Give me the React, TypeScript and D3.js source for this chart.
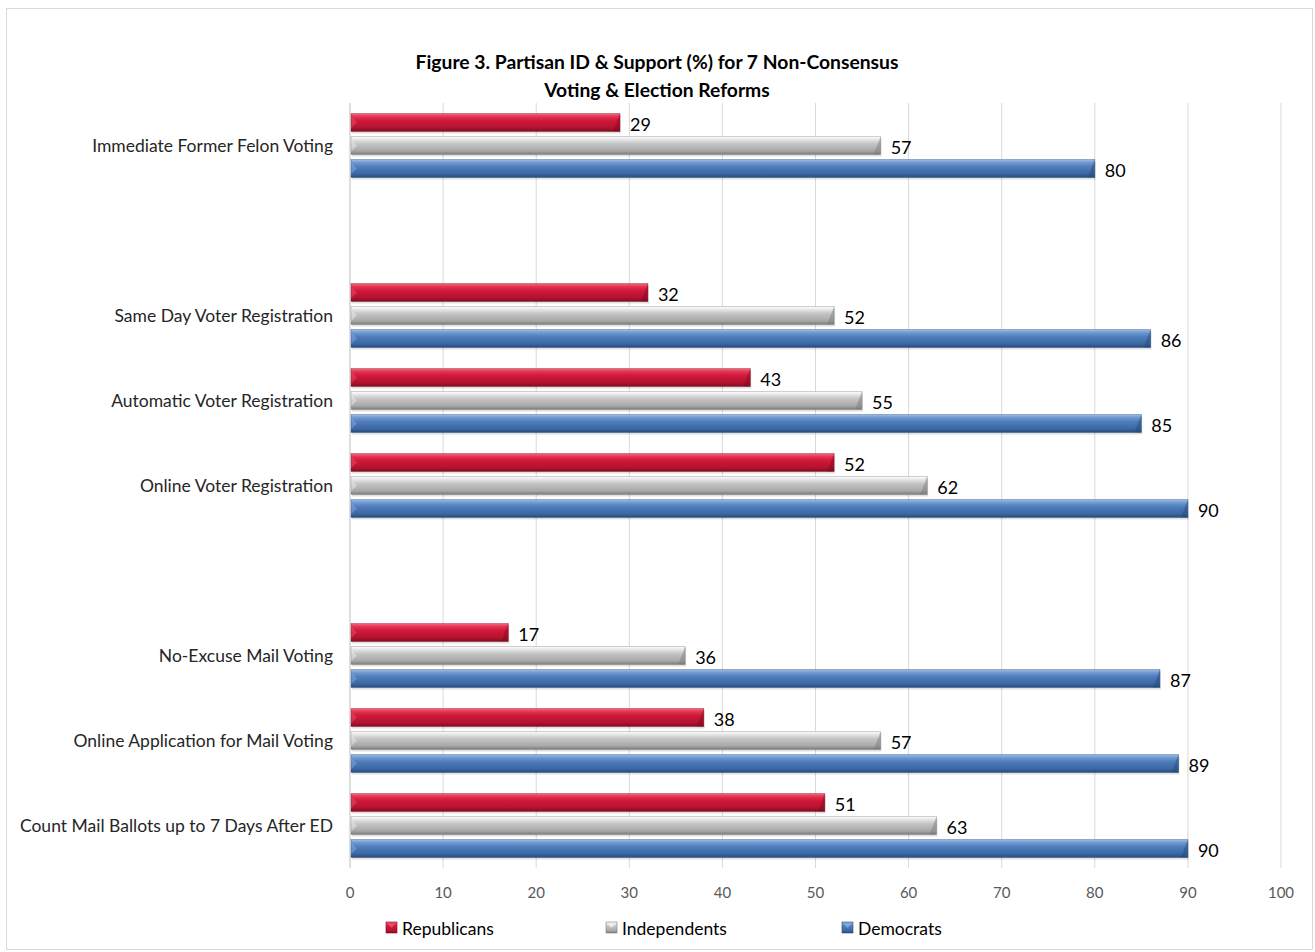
import React from "react";
import * as d3 from "d3";

const categories = [
  "Immediate Former Felon Voting",
  "",
  "Same Day Voter Registration",
  "Automatic Voter Registration",
  "Online Voter Registration",
  " ",
  "No-Excuse Mail Voting",
  "Online Application for Mail Voting",
  "Count Mail Ballots up to 7 Days After ED",
];
const series = ["Republicans", "Independents", "Democrats"];
const republicans = [29, null, 32, 43, 52, null, 17, 38, 51];
const independents = [57, null, 52, 55, 62, null, 36, 57, 63];
const democrats = [80, null, 86, 85, 90, null, 87, 89, 90];
const xTicks = [0, 10, 20, 30, 40, 50, 60, 70, 80, 90, 100];
const titleLines = [
  "Figure 3. Partisan ID & Support (%) for 7 Non-Consensus",
  "Voting & Election Reforms",
];

const palettes: Record<string, { top: string; hi: string; mid: string; low: string; bot: string }> = {
  Republicans: { top: "#f06a80", hi: "#e4324f", mid: "#d0183b", low: "#b3122f", bot: "#7e0c20" },
  Independents: { top: "#ffffff", hi: "#e4e4e4", mid: "#c4c4c4", low: "#a8a8a8", bot: "#7a7a7a" },
  Democrats: { top: "#9dbde6", hi: "#6f98d0", mid: "#4f7dbb", low: "#3b67a3", bot: "#254a7a" },
};

const FONT = "Lato, 'Open Sans', sans-serif";

export default function App() {
  const W = 1315;
  const H = 952;
  const x = d3.scaleLinear().domain([0, 100]).range([350, 1281]);
  const y = d3
    .scaleBand<string>()
    .domain(categories)
    .range([103, 868])
    .paddingInner(0)
    .paddingOuter(0);
  const inner = d3
    .scaleBand<string>()
    .domain(series)
    .range([-32, 32])
    .paddingInner(5 / 23);
  const dataBySeries: Record<string, (number | null)[]> = {
    Republicans: republicans,
    Independents: independents,
    Democrats: democrats,
  };
  const bh = inner.bandwidth();

  const legendX: Record<string, number> = { Republicans: 386, Independents: 606, Democrats: 842 };

  return (
    <svg
      width={W}
      height={H}
      style={{ position: "absolute", left: 0, top: 0, background: "#fff" }}
      fontFamily={FONT}
    >
      <defs>
        {series.map((s) => {
          const p = palettes[s];
          return (
            <linearGradient key={s} id={"g-" + s} x1="0" y1="0" x2="0" y2="1">
              <stop offset="0" stopColor={p.top} />
              <stop offset="0.18" stopColor={p.hi} />
              <stop offset="0.4" stopColor={p.mid} />
              <stop offset="0.8" stopColor={p.low} />
              <stop offset="1" stopColor={p.bot} />
            </linearGradient>
          );
        })}
      </defs>
      <rect x={6.5} y={8.5} width={1306} height={941} fill="#fff" stroke="#d9d9d9" strokeWidth={1} />

      {/* title */}
      {titleLines.map((t, i) => (
        <text
          key={i}
          x={657}
          y={61 + i * 28}
          textAnchor="middle"
          dominantBaseline="central"
          fontSize={19.3}
          fontWeight="bold"
          fill="#000"
        >
          {t}
        </text>
      ))}

      {/* gridlines */}
      {xTicks.map((t) => (
        <line
          key={t}
          x1={x(t)}
          x2={x(t)}
          y1={103}
          y2={868}
          stroke={t === 0 ? "#bfbfbf" : "#d9d9d9"}
          strokeWidth={1}
        />
      ))}

      {/* bars */}
      {categories.map((c, ci) =>
        series.map((s) => {
          const v = dataBySeries[s][ci];
          if (v == null) return null;
          const y0 = (y(c) as number) + y.bandwidth() / 2 + (inner(s) as number);
          const x0 = x(0) + 1;
          const x1 = x(v);
          const p = palettes[s];
          return (
            <g key={c + s}>
              <rect x={x0 + 1} y={y0 + 2} width={x1 - x0} height={bh} fill="#000" opacity={0.12} />
              <rect x={x0} y={y0} width={x1 - x0} height={bh} fill={`url(#g-${s})`} />
              <polygon
                points={`${x1 - 7},${y0 + bh} ${x1},${y0} ${x1},${y0 + bh}`}
                fill={p.bot}
                opacity={0.45}
              />
              <polygon
                points={`${x0},${y0 + 3} ${x0 + 6},${y0 + bh / 2} ${x0},${y0 + bh - 3}`}
                fill={p.top}
                opacity={0.35}
              />
              <rect x={x0} y={y0} width={x1 - x0} height={bh} fill="none" stroke={p.bot} strokeWidth={0.6} opacity={0.6} />
              <text
                x={x1 + 10}
                y={y0 + bh / 2 + 1}
                dominantBaseline="central"
                fontSize={18}
                fill="#000"
              >
                {v}
              </text>
            </g>
          );
        })
      )}

      {/* category labels */}
      {categories.map((c) =>
        c.trim() ? (
          <text
            key={c}
            x={333}
            y={(y(c) as number) + y.bandwidth() / 2}
            textAnchor="end"
            dominantBaseline="central"
            fontSize={17.5}
            fill="#262626"
          >
            {c}
          </text>
        ) : null
      )}

      {/* x tick labels */}
      {xTicks.map((t) => (
        <text
          key={t}
          x={x(t)}
          y={892}
          textAnchor="middle"
          dominantBaseline="central"
          fontSize={15}
          fill="#595959"
        >
          {t}
        </text>
      ))}

      {/* legend */}
      {series.map((s) => {
        const lx = legendX[s];
        const p = palettes[s];
        return (
          <g key={s}>
            <rect x={lx} y={922} width={11} height={11} fill={`url(#g-${s})`} stroke={p.bot} strokeWidth={0.6} />
            <polygon points={`${lx + 2},${924} ${lx + 9},${924} ${lx + 5.5},${928}`} fill={p.top} opacity={0.6} />
            <text x={lx + 16} y={928} dominantBaseline="central" fontSize={17.5} fill="#000">
              {s}
            </text>
          </g>
        );
      })}
    </svg>
  );
}
